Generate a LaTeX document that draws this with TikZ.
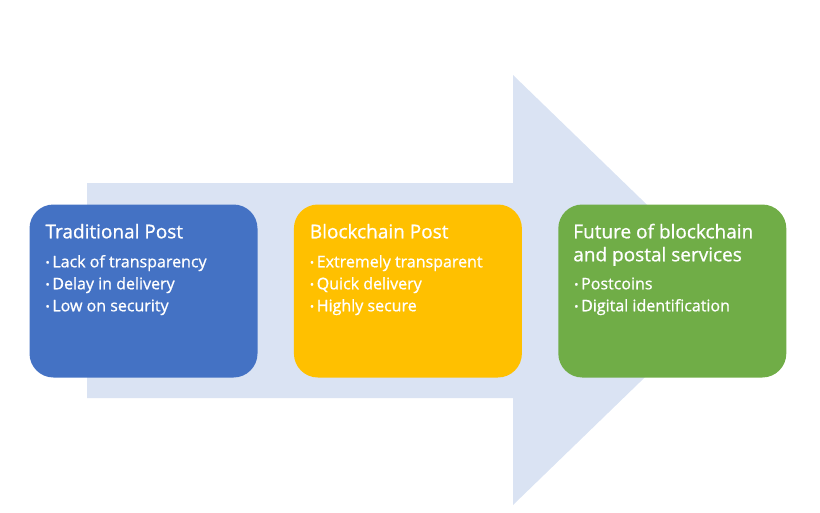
\documentclass[tikz,border=0pt]{standalone}
\usepackage{fontspec}
\setmainfont{Open Sans}[UprightFeatures={FakeBold=0.9}]
\usetikzlibrary{positioning, calc}

\definecolor{arrowFill}{HTML}{DAE3F3}
\definecolor{tradBlue}{HTML}{4472C4}
\definecolor{chainGold}{HTML}{FFC000}
\definecolor{futureGreen}{HTML}{70AD47}

\newcommand{\bul}{\raisebox{0.1ex}{\scalebox{0.7}{\textbullet}}}

\begin{document}
\begin{tikzpicture}[
        x=1pt, y=-1pt,
        postbox/.style={rounded corners=24pt, minimum width=228pt, minimum height=173pt, inner sep=0pt},
        boxtitle/.style={anchor=base west, inner sep=0pt, text=white, font=\fontsize{19}{22}\selectfont},
        boxitem/.style={anchor=base west, inner sep=0pt, text=white, font=\fontsize{16}{22}\selectfont}
    ]
        \useasboundingbox (0,0) rectangle (820,512);

        % Background arrow
        \fill[arrowFill] (87,183) -- (513,183) -- (513,75) -- (735,290)
            -- (513,505) -- (513,398) -- (87,398) -- cycle;

        % Three stages
        \node[postbox, fill=tradBlue] (trad) at (143.5,291) {};
        \node[postbox, fill=chainGold, right=36pt of trad] (chain) {};
        \node[postbox, fill=futureGreen, right=36pt of chain] (future) {};

        % Traditional post
        \node[boxtitle] (tradTitle) at ($(trad.north west)+(16,34)$) {Traditional Post};
        \foreach \t [count=\i] in {Lack of transparency, Delay in delivery, Low on security}
            \node[boxitem] (tradItem\i) at ($(trad.north west)+(16,41+22*\i)$) {\bul\,\t};

        % Blockchain post
        \node[boxtitle] (chainTitle) at ($(chain.north west)+(16,34)$) {Blockchain Post};
        \foreach \t [count=\i] in {Extremely transparent, Quick delivery, Highly secure}
            \node[boxitem] (chainItem\i) at ($(chain.north west)+(16,41+22*\i)$) {\bul\,\t};

        % Future
        \node[boxtitle] (futureTitleA) at ($(future.north west)+(15,34)$) {Future of blockchain};
        \node[boxtitle] (futureTitleB) at ($(future.north west)+(15,57)$) {and postal services};
        \foreach \t [count=\i] in {Postcoins, Digital identification}
            \node[boxitem] (futureItem\i) at ($(future.north west)+(16,63+22*\i)$) {\bul\,\t};
    \end{tikzpicture}
\end{document}
